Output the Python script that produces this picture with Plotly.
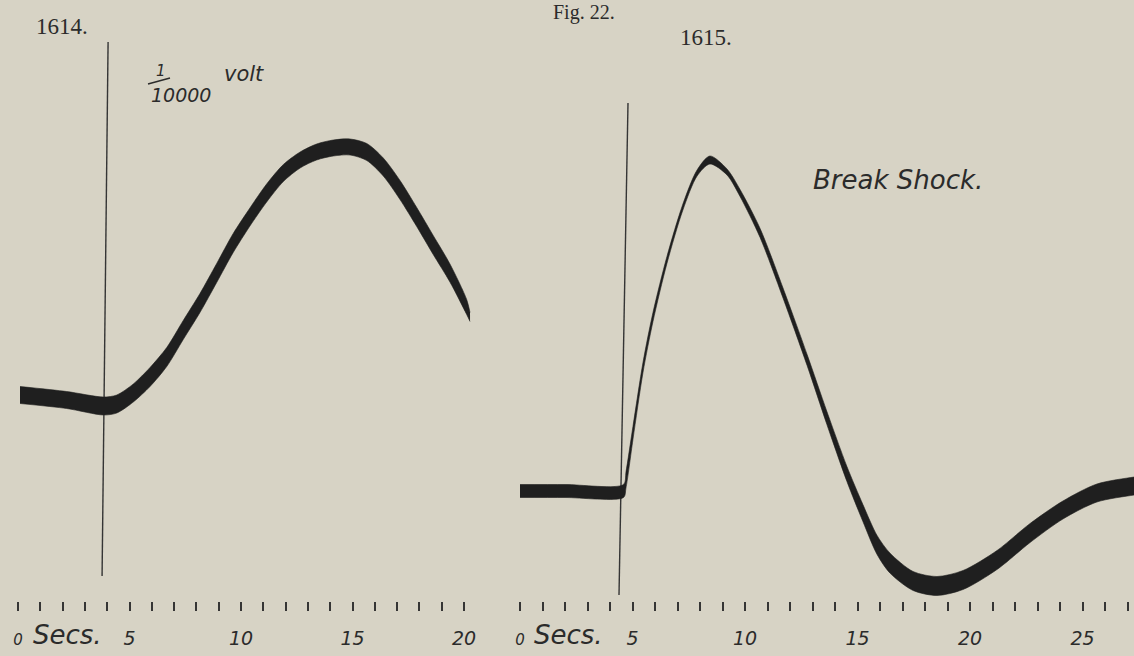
import plotly.graph_objects as go

W, H = 1134, 656

# ---------------- data ----------------
# Fig. 1614 : time (s) , trace centre (deflection units), trace thickness
L_T = [0.09, 2.18, 3.83, 4.43, 5.17, 5.92, 6.67, 7.41, 8.16, 8.91, 9.65, 10.40, 11.15,
       11.90, 12.65, 13.39, 14.14, 14.89, 15.64, 16.38, 17.13, 17.88, 18.62, 19.37, 20.12, 20.27]
L_Y = [261, 256, 250, 252, 263, 279, 299, 326, 353, 383, 413, 439, 463,
       483, 496, 504, 508, 509, 504, 489, 466, 439, 411, 383, 349, 339]
L_W = [17, 17, 18, 18, 18, 19, 19, 19, 19, 19, 19, 18, 18,
       17, 16, 16, 16, 16, 17, 18, 19, 19, 19, 18, 15, 9]

# Fig. 1615 (Break Shock)
R_T = [0.0, 2.0, 4.6, 4.71, 5.02, 5.47, 5.91, 6.53, 7.24, 7.87, 8.44, 9.2, 9.78, 10.67,
       11.69, 12.76, 13.64, 14.53, 15.24, 15.87, 16.44, 17.47, 18.53, 19.69, 21.2, 22.67,
       24.13, 25.64, 27.3, 28.0]
R_Y = [165, 165, 165, 176, 223, 289, 339, 396, 449, 483, 496, 484, 463, 423,
       363, 296, 238, 182, 143, 111, 93, 75, 70, 76, 96, 123,
       146, 163, 170, 172]
R_W = [13, 13, 13, 16, 13, 10, 9, 7, 6, 6, 8, 6, 7, 9,
       10, 11, 13, 15, 17, 19, 20, 19, 19, 19, 19, 19,
       18, 18, 18, 18]

# stimulus (vertical) lines
STIM_L_T = [4.04, 3.77]
STIM_L_Y = [614, 80]
STIM_R_T = [4.80, 4.40]
STIM_R_Y = [553, 61]

# time scales
TICKS_L = [0, 1, 2, 3, 4, 5, 6, 7, 8, 9, 10, 11, 12, 13, 14, 15, 16, 17, 18, 19, 20]
TICKS_R = [0, 1, 2, 3, 4, 5, 6, 7, 8, 9, 10, 11, 12, 13, 14, 15, 16, 17, 18, 19, 20,
           21, 22, 23, 24, 25, 26, 27]
LABELS_L_VALS = [0, 5, 10, 15, 20]
LABELS_L_TEXT = ["<span style='font-size:15px'>0</span>", "5", "10", "15", "20"]
LABELS_R_VALS = [0, 5, 10, 15, 20, 25]
LABELS_R_TEXT = ["<span style='font-size:15px'>0</span>", "5", "10", "15", "20", "25"]

# ---------------- styling ----------------
BG = "#d7d3c5"
INK = "#1f1f1f"
LINE = "#353535"
TEXT = "#2b2b2b"
HAND = "DejaVu Sans"
SERIF = "Liberation Serif"

fig = go.Figure()


def band(t, y, w, xa):
    lo = [a - b / 2 for a, b in zip(y, w)]
    hi = [a + b / 2 for a, b in zip(y, w)]
    fig.add_trace(go.Scatter(x=t, y=lo, xaxis=xa, yaxis="y", mode="lines",
                             line=dict(width=0.6, color=INK, shape="spline", smoothing=0.8),
                             hoverinfo="skip", showlegend=False))
    fig.add_trace(go.Scatter(x=t, y=hi, xaxis=xa, yaxis="y", mode="lines",
                             line=dict(width=0.6, color=INK, shape="spline", smoothing=0.8),
                             fill="tonexty", fillcolor=INK,
                             hoverinfo="skip", showlegend=False))


fig.add_trace(go.Scatter(x=STIM_L_T, y=STIM_L_Y, xaxis="x", yaxis="y", mode="lines",
                         line=dict(width=1.4, color=LINE), hoverinfo="skip", showlegend=False))
fig.add_trace(go.Scatter(x=STIM_R_T, y=STIM_R_Y, xaxis="x2", yaxis="y", mode="lines",
                         line=dict(width=1.4, color=LINE), hoverinfo="skip", showlegend=False))
band(L_T, L_Y, L_W, "x")
band(R_T, R_Y, R_W, "x2")

axis_y = (H - 601) / H
SPLIT = 495


def xaxis(dom, rng, vals, text, minor_vals):
    return dict(domain=dom, range=rng, anchor="free", position=axis_y,
                showgrid=False, zeroline=False, showline=False,
                ticks="outside", ticklen=9, tickwidth=1.5, tickcolor=LINE,
                tickmode="array", tickvals=vals, ticktext=text,
                ticklabelstandoff=11,
                tickfont=dict(family=HAND, size=19, color=TEXT, style="italic"),
                minor=dict(tickmode="array", tickvals=minor_vals, ticks="outside",
                           ticklen=9, tickwidth=1.5, tickcolor=LINE, showgrid=False),
                fixedrange=True)


fig.update_layout(
    width=W, height=H,
    margin=dict(l=0, r=0, t=0, b=0),
    paper_bgcolor=BG, plot_bgcolor=BG,
    showlegend=False,
    xaxis=xaxis([0, SPLIT / W], [-18 / 22.3, (SPLIT - 18) / 22.3],
                LABELS_L_VALS, LABELS_L_TEXT, TICKS_L),
    xaxis2=xaxis([SPLIT / W, 1], [(SPLIT - 520) / 22.5, (W - 520) / 22.5],
                 LABELS_R_VALS, LABELS_R_TEXT, TICKS_R),
    yaxis=dict(range=[0, H], domain=[0, 1], visible=False, fixedrange=True),
)


def note(text, px, py, size, family=HAND, style="italic", xanchor="center"):
    fig.add_annotation(text=text, x=px / W, y=1 - py / H, xref="paper", yref="paper",
                       xanchor=xanchor, yanchor="middle", showarrow=False,
                       font=dict(family=family, size=size, color=TEXT, style=style))


note("1614.", 62, 26, 23, family=SERIF, style="normal")
note("Fig. 22.", 584, 13, 20, family=SERIF, style="normal")
note("1615.", 706, 37, 23, family=SERIF, style="normal")
note("1", 161, 71, 15)
note("10000", 181, 95, 19)
note("volt", 244, 74, 21)
note("Break Shock.", 898, 180, 26)
note("Secs.", 31, 635, 26, xanchor="left")
note("Secs.", 532, 635, 26, xanchor="left")

# slanted fraction bar of 1/10000
fig.add_shape(type="line", xref="paper", yref="paper",
              x0=148 / W, y0=1 - 84 / H, x1=170 / W, y1=1 - 78 / H,
              line=dict(color=TEXT, width=1.4))

fig.write_html("out.html",
               config={"displayModeBar": False},
               post_script="document.body.style.margin='0';"
                           "document.body.style.background='" + BG + "';")
